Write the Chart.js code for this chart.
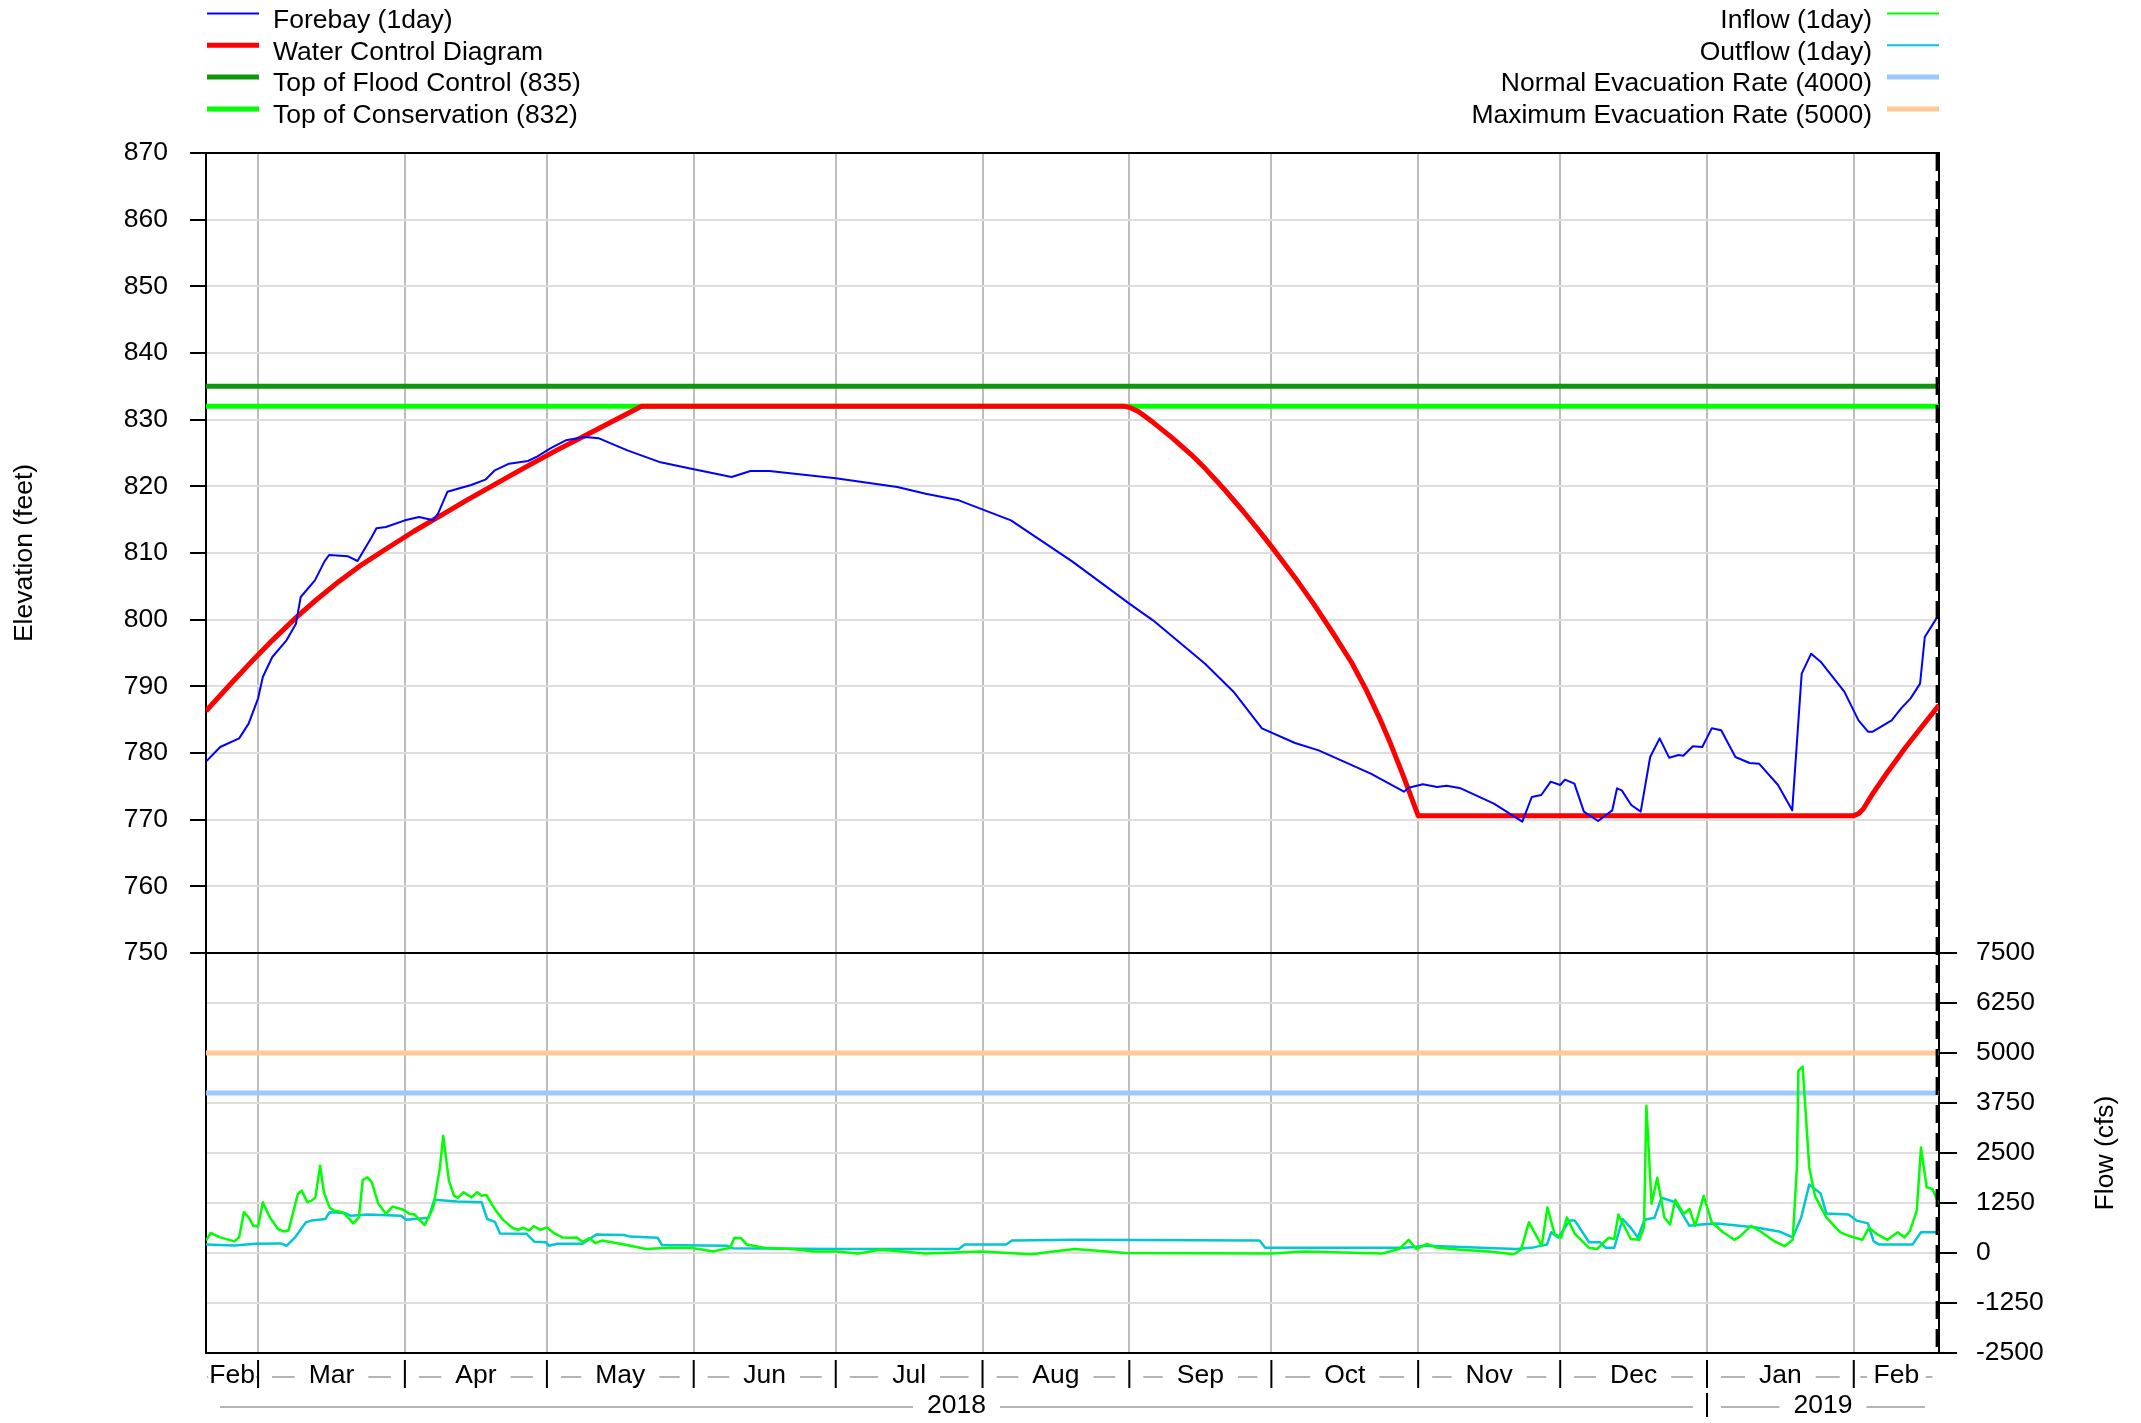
<!DOCTYPE html>
<html>
<head>
<meta charset="utf-8">
<title>Forebay, inflow and outflow</title>
<script src="https://cdn.jsdelivr.net/npm/chart.js@4.4.1/dist/chart.umd.min.js"></script>
<style>
  html, body { margin: 0; padding: 0; background: #fff; }
  canvas { display: block; }
</style>
</head>
<body>
<canvas id="chart" width="2141" height="1423"></canvas>
<script>
// day numbers count from 18 Feb 2018 (day 0) to 19 Feb 2019 (day 366)
const monthStarts = [0, 11, 42, 72, 103, 133, 164, 195, 225, 256, 286, 317, 348, 366];
const monthLabels = ['Feb', 'Mar', 'Apr', 'May', 'Jun', 'Jul', 'Aug', 'Sep', 'Oct', 'Nov', 'Dec', 'Jan', 'Feb'];
const yearStarts = [0, 317, 366];
const yearLabels = ['2018', '2019'];
const elevTicks = [750, 760, 770, 780, 790, 800, 810, 820, 830, 840, 850, 860, 870];
const flowTicks = [-2500, -1250, 0, 1250, 2500, 3750, 5000, 6250, 7500];
const nowDay = 365.6;

const forebayDay = [0, 3, 7, 9, 11, 12, 14, 17, 19, 20, 23, 25, 26, 30, 32, 35, 36, 38, 42, 45, 48, 49, 51, 53, 56, 59, 61, 64, 68, 70, 73, 76, 80, 83, 89, 96, 102, 111, 115, 119, 133, 146, 152, 159, 170, 183, 195, 200, 211, 217, 223, 230, 235, 246, 253, 254, 257, 260, 262, 265, 272, 278, 280, 282, 284, 286, 287, 289, 291, 294, 297, 298, 299, 301, 303, 305, 307, 309, 311, 312, 314, 316, 318, 320, 323, 326, 328, 332, 335, 337, 339, 341, 343, 346, 349, 351, 352, 356, 358, 360, 362, 363, 366];
const forebayElev = [778.7, 780.9, 782.2, 784.4, 788.2, 791.4, 794.4, 796.9, 799.4, 803.4, 805.9, 808.7, 809.7, 809.5, 808.8, 812.4, 813.7, 813.9, 814.9, 815.4, 814.9, 815.9, 819.2, 819.6, 820.2, 821.0, 822.4, 823.4, 823.8, 824.5, 825.8, 826.9, 827.4, 827.2, 825.4, 823.6, 822.7, 821.4, 822.3, 822.3, 821.2, 819.9, 818.9, 817.9, 814.9, 808.7, 802.4, 799.9, 793.4, 789.2, 783.7, 781.5, 780.4, 776.9, 774.2, 774.8, 775.3, 774.9, 775.1, 774.7, 772.4, 769.7, 773.4, 773.7, 775.7, 775.2, 776.0, 775.4, 771.2, 769.8, 771.4, 774.7, 774.4, 772.2, 771.2, 779.4, 782.2, 779.3, 779.7, 779.6, 781.0, 780.9, 783.7, 783.4, 779.4, 778.5, 778.4, 775.2, 771.4, 791.9, 794.9, 793.7, 791.9, 789.2, 784.9, 783.2, 783.2, 784.9, 786.7, 788.2, 790.4, 797.4, 800.8];

const wcdDay = [0, 5, 10, 14, 19, 23, 28, 33, 38, 44, 50, 55, 61, 67, 74, 80, 86, 92, 194, 195, 197, 200, 204, 208, 211, 215, 219, 222, 225, 230, 234, 238, 242, 245, 248, 250, 253, 256, 348, 349, 350, 352, 355, 359, 366];
const wcdElev = [786.3, 790.2, 794.0, 796.9, 800.3, 802.8, 805.7, 808.3, 810.6, 813.3, 815.8, 817.9, 820.3, 822.7, 825.4, 827.6, 829.8, 832.0, 832.0, 831.85, 831.2, 829.6, 827.3, 824.8, 822.7, 819.6, 816.3, 813.7, 811.0, 806.3, 802.3, 798.0, 793.5, 789.5, 785.0, 781.7, 776.3, 770.6, 770.6, 770.9, 771.6, 773.9, 777.0, 780.9, 787.2];

const floodControlTop = 835;
const conservationTop = 832;
const normalEvacRate = 4000;
const maxEvacRate = 5000;

const inflowDay = [0, 1, 3, 6, 7, 8, 9, 10, 11, 12, 13.5, 15.2, 16.4, 17.4, 18.5, 19.4, 20.2, 21.4, 22.3, 23.1, 24.1, 24.9, 26.1, 27, 28.8, 30, 31.1, 32.3, 33.1, 34.1, 35, 36.4, 38, 39.4, 40.6, 41.7, 42.9, 44.1, 44.9, 46.2, 48, 49.4, 50.1, 51.3, 52.4, 53.2, 54.4, 56.1, 57.3, 58.2, 59.2, 61.2, 62.9, 64.7, 65.9, 67.1, 68.3, 69.2, 70.6, 72, 73.6, 75.3, 77.1, 78.3, 79.5, 81, 82.2, 83.6, 88.3, 93, 97.7, 102.4, 107.2, 110.7, 111.6, 113, 114.2, 117.8, 123.7, 128.4, 133.1, 137.8, 142.5, 152, 163.7, 174.3, 179, 183.5, 194.3, 224.9, 232, 248.5, 252, 254, 255.6, 257.9, 259.7, 265, 270.9, 276.2, 277.7, 279.4, 282.1, 283.3, 284.8, 286.2, 287.4, 289.1, 292.1, 293.8, 296.2, 297.4, 298.3, 299.4, 300.9, 302.7, 303.7, 304.2, 305.3, 306.5, 308, 309.2, 310.3, 312.1, 313.3, 314.5, 316.3, 318, 320.4, 322.8, 323.9, 326.3, 328, 331, 333.4, 335.1, 336, 336.3, 337.2, 338.6, 339.8, 342.2, 345.1, 346.9, 349.8, 351.2, 352.8, 355.1, 357.3, 358.7, 359.9, 361.3, 362.2, 363.4, 364.6, 366];
const inflowCfs = [310, 500, 390, 290, 390, 1020, 890, 680, 660, 1270, 890, 600, 540, 560, 1060, 1475, 1560, 1270, 1310, 1390, 2180, 1520, 1140, 1060, 1020, 890, 740, 890, 1830, 1890, 1770, 1230, 980, 1160, 1120, 1080, 980, 960, 850, 700, 1140, 2140, 2930, 1810, 1430, 1380, 1520, 1390, 1520, 1430, 1450, 1060, 810, 630, 580, 630, 560, 670, 580, 640, 490, 390, 380, 390, 280, 370, 250, 310, 210, 100, 130, 130, 40, 130, 380, 370, 210, 130, 100, 40, 40, -10, 80, -10, 40, -30, 40, 100, 0, -10, 40, -10, 100, 330, 100, 230, 140, 80, 40, -30, 80, 770, 180, 1140, 480, 380, 890, 480, 130, 100, 380, 350, 960, 700, 350, 330, 640, 3680, 1230, 1880, 890, 710, 1330, 980, 1100, 680, 1430, 770, 520, 330, 410, 680, 560, 310, 170, 330, 2140, 4560, 4660, 2140, 1430, 890, 520, 430, 330, 630, 480, 330, 520, 390, 560, 1060, 2640, 1640, 1600, 1225];

const outflowDay = [0, 6, 10.5, 15.8, 17, 18.8, 21.1, 22.3, 25.2, 26.1, 29.4, 30.6, 34.1, 41.2, 42.3, 47, 48.2, 53, 58.2, 59.4, 61, 62.1, 67.7, 69.4, 71.8, 72.4, 74.2, 79.5, 82.4, 88.3, 89.5, 95.4, 96.3, 110.1, 111.3, 133.1, 159, 160.2, 169, 170.2, 183.5, 222.5, 223.7, 253.2, 257.9, 276.7, 280.3, 283.2, 284.1, 285.6, 288, 289.1, 292.1, 294.4, 295.6, 297.4, 299.2, 300.9, 302.4, 303.8, 305.9, 307.4, 310.3, 313.3, 315.7, 319.2, 327.4, 332.2, 335.1, 336.9, 338.6, 341, 342.2, 346.9, 348.6, 351, 352.2, 353.4, 360.4, 362.2, 366];
const outflowCfs = [210, 190, 230, 240, 180, 390, 770, 810, 850, 1020, 1000, 930, 960, 930, 830, 880, 1330, 1290, 1270, 850, 780, 490, 480, 280, 270, 180, 230, 230, 460, 450, 410, 380, 200, 180, 120, 100, 100, 210, 210, 310, 330, 310, 130, 130, 180, 100, 140, 210, 520, 390, 810, 810, 270, 270, 130, 130, 850, 630, 390, 830, 880, 1380, 1270, 680, 710, 740, 640, 540, 390, 890, 1710, 1490, 990, 960, 810, 740, 290, 210, 210, 520, 520];

const FONT = '"Liberation Sans", Arial, Helvetica, sans-serif';
Chart.defaults.font.family = FONT;
Chart.defaults.font.size = 26.5;
Chart.defaults.color = '#000';

const pts = (xs, ys) => xs.map((x, i) => ({ x: x, y: ys[i] }));
const flat = v => [{ x: monthStarts[0], y: v }, { x: monthStarts[monthStarts.length - 1], y: v }];

const leftLegend = [
  { text: 'Forebay (1day)', color: '#0000ff', width: 2 },
  { text: 'Water Control Diagram', color: '#ff0000', width: 5 },
  { text: 'Top of Flood Control (' + floodControlTop + ')', color: '#0f960f', width: 5 },
  { text: 'Top of Conservation (' + conservationTop + ')', color: '#00ff00', width: 5 }
];
const rightLegend = [
  { text: 'Inflow (1day)', color: '#00ff00', width: 2 },
  { text: 'Outflow (1day)', color: '#00c8d0', width: 2 },
  { text: 'Normal Evacuation Rate (' + normalEvacRate + ')', color: '#9cc8ff', width: 5 },
  { text: 'Maximum Evacuation Rate (' + maxEvacRate + ')', color: '#ffc896', width: 5 }
];

const decorations = {
  id: 'decorations',
  afterDatasetsDraw(chart) {
    const { ctx, chartArea } = chart;
    const px = chart.scales.x.getPixelForValue(nowDay);
    ctx.save();
    ctx.strokeStyle = '#000';
    ctx.lineWidth = 3;
    ctx.setLineDash([18, 10]);
    ctx.beginPath();
    ctx.moveTo(px, chartArea.top);
    ctx.lineTo(px, chartArea.bottom);
    ctx.stroke();
    ctx.restore();
  },
  afterDraw(chart) {
    const { ctx } = chart;
    const x = chart.scales.x;
    ctx.save();
    ctx.font = '26.5px ' + FONT;
    ctx.fillStyle = '#000';
    ctx.textBaseline = 'middle';

    // legends
    leftLegend.forEach((it, i) => {
      const y = 13.5 + i * 31.8;
      ctx.strokeStyle = it.color; ctx.lineWidth = it.width;
      ctx.beginPath(); ctx.moveTo(207, y); ctx.lineTo(259, y); ctx.stroke();
      ctx.textAlign = 'left';
      ctx.fillText(it.text, 273, y + 7);
    });
    rightLegend.forEach((it, i) => {
      const y = 13.5 + i * 31.8;
      ctx.strokeStyle = it.color; ctx.lineWidth = it.width;
      ctx.beginPath(); ctx.moveTo(1887, y); ctx.lineTo(1939, y); ctx.stroke();
      ctx.textAlign = 'right';
      ctx.fillText(it.text, 1872, y + 7);
    });

    // axis titles
    ctx.textAlign = 'center';
    const yE = chart.scales.yElev, yF = chart.scales.yFlow;
    ctx.save();
    ctx.translate(25, (yE.getPixelForValue(elevTicks[0]) + yE.getPixelForValue(elevTicks[elevTicks.length - 1])) / 2);
    ctx.rotate(-Math.PI / 2);
    ctx.fillText('Elevation (feet)', 0, 0);
    ctx.restore();
    ctx.save();
    ctx.translate(2106, (yF.getPixelForValue(flowTicks[0]) + yF.getPixelForValue(flowTicks[flowTicks.length - 1])) / 2);
    ctx.rotate(-Math.PI / 2);
    ctx.fillText('Flow (cfs)', 0, 0);
    ctx.restore();

    // month and year rows under the axis
    function row(starts, labels, y, t0, t1) {
      for (let i = 0; i < labels.length; i++) {
        const a = x.getPixelForValue(starts[i]);
        const b = x.getPixelForValue(starts[i + 1]);
        const c = (a + b) / 2;
        const w = ctx.measureText(labels[i]).width;
        ctx.fillStyle = '#000';
        ctx.fillText(labels[i], c, y);
        const avail = (b - a - w) / 2;
        const gap = Math.min(14, avail / 3);
        if (avail - 2 * gap > 1) {
          ctx.strokeStyle = '#b4b4b4'; ctx.lineWidth = 2;
          ctx.beginPath();
          ctx.moveTo(a + gap, y + 1); ctx.lineTo(c - w / 2 - gap, y + 1);
          ctx.moveTo(c + w / 2 + gap, y + 1); ctx.lineTo(b - gap, y + 1);
          ctx.stroke();
        } else if (i === 0) {
          // first month is too narrow: short dash just left of the label
          ctx.strokeStyle = '#b4b4b4'; ctx.lineWidth = 2;
          ctx.beginPath();
          ctx.moveTo(c - w / 2 - 14, y + 1); ctx.lineTo(c - w / 2 - 2, y + 1);
          ctx.stroke();
        }
        if (i > 0) {
          ctx.strokeStyle = '#000'; ctx.lineWidth = 2;
          ctx.beginPath(); ctx.moveTo(a, t0); ctx.lineTo(a, t1); ctx.stroke();
        }
      }
    }
    row(monthStarts, monthLabels, 1376, 1360, 1388);
    row(yearStarts, yearLabels, 1406, 1393, 1417);
    ctx.restore();
  }
};

const line = (label, data, color, width, axis, order) => ({
  label: label, data: data, borderColor: color, backgroundColor: color,
  borderWidth: width, pointRadius: 0, fill: false, tension: 0,
  borderJoinStyle: 'round', yAxisID: axis, order: order
});

new Chart(document.getElementById('chart'), {
  type: 'line',
  data: {
    datasets: [
      line('Forebay (1day)', pts(forebayDay, forebayElev), '#0000ff', 2, 'yElev', 0),
      line('Water Control Diagram', pts(wcdDay, wcdElev), '#ff0000', 5, 'yElev', 1),
      line('Top of Flood Control', flat(floodControlTop), '#0f960f', 5, 'yElev', 2),
      line('Top of Conservation', flat(conservationTop), '#00ff00', 5, 'yElev', 3),
      line('Inflow (1day)', pts(inflowDay, inflowCfs), '#00ff00', 2.5, 'yFlow', 4),
      line('Outflow (1day)', pts(outflowDay, outflowCfs), '#00c8d0', 2.5, 'yFlow', 5),
      line('Normal Evacuation Rate', flat(normalEvacRate), '#9cc8ff', 5, 'yFlow', 6),
      line('Maximum Evacuation Rate', flat(maxEvacRate), '#ffc896', 5, 'yFlow', 7)
    ]
  },
  options: {
    responsive: false,
    devicePixelRatio: 1,
    animation: false,
    layout: { padding: { top: 153, left: 0, right: 0, bottom: 0 } },
    plugins: { legend: { display: false }, tooltip: { enabled: false } },
    scales: {
      x: {
        type: 'linear', min: monthStarts[0], max: monthStarts[monthStarts.length - 1], z: -1,
        afterBuildTicks: s => { s.ticks = monthStarts.slice(1, -1).map(v => ({ value: v })); },
        afterFit: s => { s.height = 70; },
        ticks: { display: false, autoSkip: false },
        grid: { color: '#bdbdbd', lineWidth: 2, drawTicks: false },
        border: { display: true, color: '#000', width: 2 }
      },
      yElev: {
        type: 'linear', position: 'left', min: 690, max: 870,
        afterBuildTicks: s => { s.ticks = elevTicks.map(v => ({ value: v })); },
        afterFit: s => { s.width = 206; },
        ticks: { autoSkip: false, padding: 22, callback: v => String(v) },
        grid: {
          color: c => (c.tick && (c.tick.value === 750 || c.tick.value === 870)) ? '#000' : '#dedede',
          lineWidth: 2, tickColor: '#000', tickLength: 16
        },
        border: { display: true, color: '#000', width: 2 }
      },
      yFlow: {
        type: 'linear', position: 'right', min: -2500, max: 27500,
        afterBuildTicks: s => { s.ticks = flowTicks.map(v => ({ value: v })); },
        afterFit: s => { s.width = 202; },
        ticks: { autoSkip: false, padding: 19, callback: v => String(v) },
        grid: {
          color: c => (c.tick && (c.tick.value === 7500 || c.tick.value === -2500)) ? '#000' : '#dedede',
          lineWidth: 2, tickColor: '#000', tickLength: 18
        },
        border: { display: true, color: '#000', width: 2 }
      }
    }
  },
  plugins: [decorations]
});
</script>
</body>
</html>
